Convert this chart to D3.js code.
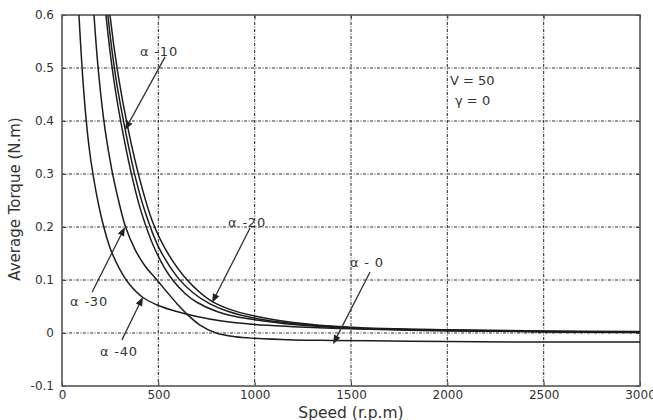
<!DOCTYPE html>
<html>
<head>
<meta charset="utf-8">
<script src="https://cdn.jsdelivr.net/npm/d3@7"></script>
<style>
  html, body { margin: 0; padding: 0; background: #fff; }
  svg { display: block; }
  text { font-family: "DejaVu Sans", Arial, sans-serif; fill: #333; }
</style>
</head>
<body>
<svg id="chart" width="653" height="420"></svg>
<script>
// ---------- data ----------
const xTicks = [0, 500, 1000, 1500, 2000, 2500, 3000];
const yTicks = [-0.1, 0, 0.1, 0.2, 0.3, 0.4, 0.5, 0.6];
const yTickLabels = ["-0.1", "0", "0.1", "0.2", "0.3", "0.4", "0.5", "0.6"];

// alpha = 40 (leftmost curve)
const speedA40  = [80, 88, 110, 130, 150, 180, 210, 250, 300, 350, 420, 500, 600, 700, 820, 1000, 1200, 1400, 1700, 2000, 2500, 3000];
const torqueA40 = [0.66, 0.6, 0.47, 0.385, 0.325, 0.26, 0.21, 0.16, 0.12, 0.092, 0.067, 0.052, 0.040, 0.031, 0.023, 0.016, 0.012, 0.009, 0.006, 0.004, 0.003, 0.002];

// alpha = 30 (goes negative)
const speedA30  = [150, 166, 190, 223, 260, 300, 330, 380, 430, 493, 550, 600, 650, 716, 800, 900, 1000, 1200, 1400, 1700, 2000, 2500, 3000];
const torqueA30 = [0.7, 0.6, 0.49, 0.385, 0.305, 0.24, 0.2, 0.157, 0.127, 0.1, 0.075, 0.054, 0.035, 0.015, 0.0, -0.007, -0.010, -0.013, -0.014, -0.015, -0.016, -0.017, -0.017];

// bundle: alpha = 0, 10, 20
const speedA0   = [205, 228, 270, 320, 370, 410, 480, 560, 640, 700, 800, 900, 1000, 1200, 1500, 2000, 2500, 3000];
const torqueA0  = [0.7, 0.6, 0.475, 0.37, 0.285, 0.23, 0.16, 0.107, 0.074, 0.058, 0.041, 0.031, 0.025, 0.016, 0.009, 0.005, 0.002, 0.001];

const speedA10  = [215, 238, 280, 330, 380, 430, 500, 600, 680, 768, 860, 1000, 1200, 1500, 2000, 2500, 3000];
const torqueA10 = [0.7, 0.6, 0.48, 0.38, 0.295, 0.23, 0.163, 0.105, 0.076, 0.055, 0.041, 0.028, 0.018, 0.01, 0.005, 0.003, 0.002];

const speedA20  = [225, 249, 290, 343, 400, 470, 550, 650, 768, 860, 1000, 1200, 1500, 2000, 2500, 3000];
const torqueA20 = [0.7, 0.6, 0.49, 0.385, 0.295, 0.21, 0.15, 0.1, 0.062, 0.046, 0.032, 0.02, 0.011, 0.006, 0.004, 0.003];

const seriesList = [
  { name: "α=40", speed: speedA40, torque: torqueA40 },
  { name: "α=30", speed: speedA30, torque: torqueA30 },
  { name: "α=0",  speed: speedA0,  torque: torqueA0 },
  { name: "α=10", speed: speedA10, torque: torqueA10 },
  { name: "α=20", speed: speedA20, torque: torqueA20 }
];

// annotation labels (data coordinates)
const labelText  = ["α -10", "α -20", "α -30", "α -40", "α - 0"];
const labelPos   = [[405, 0.523], [862, 0.2], [42, 0.051], [197, -0.043], [1495, 0.125]];
const arrowFrom  = [[535, 0.521], [976, 0.198], [156, 0.077], [311, -0.013], [1599, 0.115]];
const arrowTo    = [[327, 0.383], [779, 0.057], [327, 0.2], [420, 0.068], [1407, -0.021]];
const noteText   = ["V = 50", "γ = 0"];
const notePos    = [[2014, 0.468], [2040, 0.43]];

// ---------- chart ----------
const svg = d3.select("#chart");
const L = 62, R = 640, T = 15, B = 386;
const x = d3.scaleLinear().domain([0, 3000]).range([L, R]);
const y = d3.scaleLinear().domain([-0.1, 0.6]).range([B, T]);

svg.append("defs").append("clipPath").attr("id", "plotclip")
  .append("rect").attr("x", L).attr("y", T).attr("width", R - L).attr("height", B - T);

// grid
const grid = svg.append("g");
grid.selectAll(".gx").data(xTicks.slice(1, -1)).enter().append("line")
  .attr("x1", d => x(d)).attr("x2", d => x(d)).attr("y1", T).attr("y2", B)
  .attr("stroke", "#333").attr("stroke-width", 1.1).attr("stroke-dasharray", "3,1.5,1,1.5");
grid.selectAll(".gy").data(yTicks.slice(1, -1)).enter().append("line")
  .attr("y1", d => y(d)).attr("y2", d => y(d)).attr("x1", L).attr("x2", R)
  .attr("stroke", "#333").attr("stroke-width", 1.1).attr("stroke-dasharray", "3,1.5,1,1.5");

// axes with inward ticks on all four sides
const axB = d3.axisBottom(x).tickValues(xTicks).tickSizeInner(-4).tickSizeOuter(0).tickPadding(4).tickFormat(d3.format("d"));
const axT = d3.axisTop(x).tickValues(xTicks).tickSizeInner(-4).tickSizeOuter(0).tickFormat("");
const axL = d3.axisLeft(y).tickValues(yTicks).tickSizeInner(-4).tickSizeOuter(0).tickPadding(8).tickFormat((d, i) => yTickLabels[i]);
const axR = d3.axisRight(y).tickValues(yTicks).tickSizeInner(-4).tickSizeOuter(0).tickFormat("");

function styleAxis(g) {
  g.select(".domain").remove();
  g.selectAll(".tick line").attr("stroke", "#444").attr("stroke-width", 1);
  g.selectAll("text").attr("font-size", 12).attr("fill", "#333").attr("font-family", "DejaVu Sans, Arial, sans-serif");
}
svg.append("g").attr("transform", `translate(0,${B})`).call(axB).call(styleAxis);
svg.append("g").attr("transform", `translate(0,${T})`).call(axT).call(styleAxis);
svg.append("g").attr("transform", `translate(${L},0)`).call(axL).call(styleAxis);
svg.append("g").attr("transform", `translate(${R},0)`).call(axR).call(styleAxis);

// frame
svg.append("rect").attr("x", L).attr("y", T).attr("width", R - L).attr("height", B - T)
  .attr("fill", "none").attr("stroke", "#555").attr("stroke-width", 1.6);

// curves
const line = d3.line().x(d => x(d[0])).y(d => y(d[1])).curve(d3.curveCatmullRom.alpha(0.5));
const curves = svg.append("g").attr("clip-path", "url(#plotclip)");
seriesList.forEach(s => {
  const pts = s.speed.map((v, i) => [v, s.torque[i]]);
  curves.append("path").datum(pts).attr("d", line)
    .attr("fill", "none").attr("stroke", "#1c1c1c").attr("stroke-width", 1.5);
});

// arrows
function arrow(from, to) {
  const x1 = x(from[0]), y1 = y(from[1]), x2 = x(to[0]), y2 = y(to[1]);
  const ang = Math.atan2(y2 - y1, x2 - x1);
  const hl = 9, hw = 3.5;
  const bx = x2 - hl * Math.cos(ang), by = y2 - hl * Math.sin(ang);
  svg.append("line").attr("x1", x1).attr("y1", y1).attr("x2", bx).attr("y2", by)
    .attr("stroke", "#333").attr("stroke-width", 1.3);
  const px = -Math.sin(ang) * hw, py = Math.cos(ang) * hw;
  svg.append("path").attr("d", `M${x2},${y2}L${bx + px},${by + py}L${bx - px},${by - py}Z`).attr("fill", "#222");
}
labelText.forEach((t, i) => {
  arrow(arrowFrom[i], arrowTo[i]);
  svg.append("text").attr("x", x(labelPos[i][0])).attr("y", y(labelPos[i][1]))
    .attr("font-size", 13).attr("letter-spacing", 0.8).text(t);
});
noteText.forEach((t, i) => {
  svg.append("text").attr("x", x(notePos[i][0])).attr("y", y(notePos[i][1]))
    .attr("font-size", 13).text(t);
});

// axis titles
svg.append("text").attr("x", 351).attr("y", 418).attr("text-anchor", "middle")
  .attr("font-size", 15.5).text("Speed (r.p.m)");
svg.append("text").attr("transform", `translate(20,199) rotate(-90)`).attr("text-anchor", "middle")
  .attr("font-size", 15).text("Average Torque (N.m)");
</script>
</body>
</html>
